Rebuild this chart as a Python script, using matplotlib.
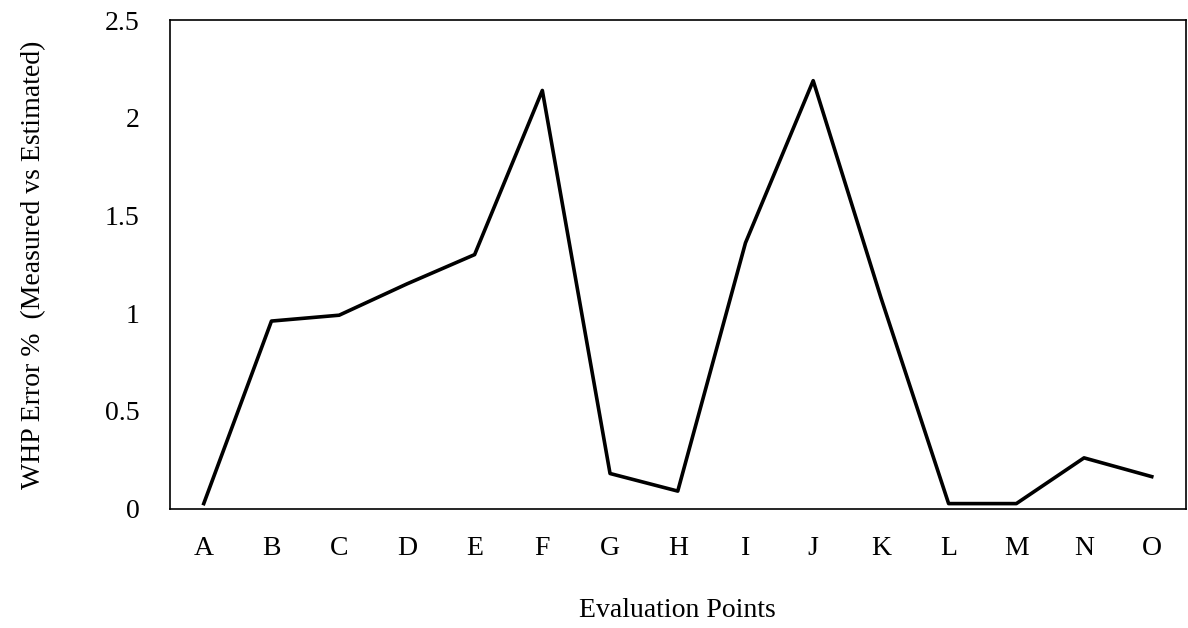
import matplotlib.pyplot as plt

plt.rcParams['font.family'] = ['Liberation Serif', 'DejaVu Serif']
plt.rcParams['font.size'] = 20

points = ["A", "B", "C", "D", "E", "F", "G", "H", "I", "J", "K", "L", "M", "N", "O"]
whp_error = [0.026, 0.96, 0.99, 1.15, 1.30, 2.14, 0.18, 0.09, 1.36, 2.19, 1.08,
             0.026, 0.026, 0.26, 0.164]

fig = plt.figure(figsize=(11.88, 6.28), dpi=100)
ax = fig.add_axes([0.143, 0.19, 0.855, 0.778])

x = range(len(points))
ax.plot(x, whp_error, color="black", linewidth=2.6)

ax.set_xlim(-0.5, len(points) - 0.5)
ax.set_ylim(0, 2.5)
ax.set_xticks(list(x))
ax.set_xticklabels(points)
ax.set_yticks([0, 0.5, 1, 1.5, 2, 2.5])
ax.set_yticklabels(["0", "0.5", "1", "1.5", "2", "2.5"])
ax.tick_params(axis="both", length=0, labelsize=20)
ax.tick_params(axis="x", pad=20)
ax.tick_params(axis="y", pad=22)
for s in ax.spines.values():
    s.set_linewidth(1.2)

ax.set_xlabel("Evaluation Points", fontsize=20, labelpad=26)
ax.set_ylabel("WHP Error %  (Measured vs Estimated)", fontsize=20, labelpad=42)

fig.savefig("out.png", dpi=100)
